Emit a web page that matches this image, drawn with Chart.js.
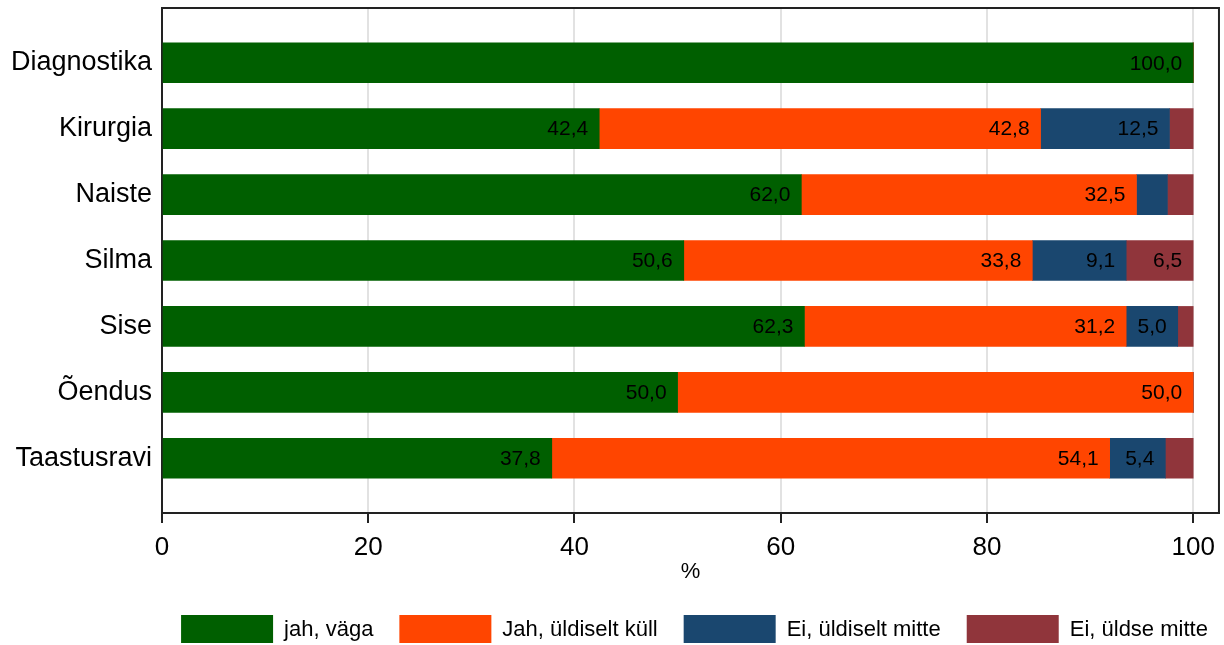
<!DOCTYPE html>
<html>
<head>
<meta charset="utf-8">
<script src="https://cdn.jsdelivr.net/npm/chart.js@4"></script>
<style>
  html, body { margin: 0; padding: 0; background: #fff; }
  #wrap { width: 1224px; height: 645px; position: relative; }
</style>
</head>
<body>
<div id="wrap"><canvas id="osakond"></canvas></div>
<script>
// categories (top to bottom) and shares per answer, %
var osakonnad = ['Diagnostika', 'Kirurgia', 'Naiste', 'Silma', 'Sise', 'Õendus', 'Taastusravi']
var jahVaga = [100.0, 42.4, 62.0, 50.6, 62.3, 50.0, 37.8]
var jahUldiseltKull = [0, 42.8, 32.5, 33.8, 31.2, 50.0, 54.1]
var eiUldiseltMitte = [0, 12.5, 3.0, 9.1, 5.0, 0, 5.4]
var eiUldseMitte = [0, 2.3, 2.5, 6.5, 1.5, 0, 2.7]
var xTicks = [0, 20, 40, 60, 80, 100]

var fontFamily = '"Liberation Sans", Arial, Helvetica, sans-serif'

function toPoints(values) {
    return values.map(function (v, i) { return { x: v, y: i } })
}

var barData = {
    datasets: [
        { label: 'jah, väga', data: toPoints(jahVaga), backgroundColor: '#005f00' },
        { label: 'Jah, üldiselt küll', data: toPoints(jahUldiseltKull), backgroundColor: '#ff4500' },
        { label: 'Ei, üldiselt mitte', data: toPoints(eiUldiseltMitte), backgroundColor: '#1a476f' },
        { label: 'Ei, üldse mitte', data: toPoints(eiUldseMitte), backgroundColor: '#90353b' }
    ]
}

// value labels inside the right end of each segment (only for 5% and up)
var valueLabels = {
    id: 'valueLabels',
    afterDatasetsDraw: function (chart) {
        var ctx = chart.ctx
        ctx.save()
        ctx.font = '21px ' + fontFamily
        ctx.fillStyle = '#000'
        ctx.textAlign = 'right'
        ctx.textBaseline = 'middle'
        chart.data.datasets.forEach(function (ds, di) {
            chart.getDatasetMeta(di).data.forEach(function (bar, i) {
                var v = ds.data[i].x
                if (v < 5) return
                ctx.fillText(v.toFixed(1).replace('.', ','), bar.x - 11, bar.y + 1)
            })
        })
        ctx.restore()
    }
}

// top and right edges of the plot frame
var plotFrame = {
    id: 'plotFrame',
    afterDraw: function (chart) {
        var a = chart.chartArea
        var ctx = chart.ctx
        ctx.save()
        ctx.strokeStyle = '#222'
        ctx.lineWidth = 2
        ctx.beginPath()
        ctx.moveTo(a.left, a.top)
        ctx.lineTo(a.right, a.top)
        ctx.lineTo(a.right, a.bottom)
        ctx.stroke()
        ctx.restore()
    }
}

// legend row under the axis
var bottomLegend = {
    id: 'bottomLegend',
    afterDraw: function (chart) {
        var ctx = chart.ctx
        var boxW = 92, boxH = 28, textGap = 11, itemGap = 26
        var boxTop = 615
        ctx.save()
        ctx.font = '22px ' + fontFamily
        ctx.textBaseline = 'middle'
        ctx.textAlign = 'left'
        var items = chart.data.datasets.map(function (ds) {
            return { label: ds.label, color: ds.backgroundColor, w: ctx.measureText(ds.label).width }
        })
        var total = items.reduce(function (s, it) { return s + boxW + textGap + it.w }, 0) + itemGap * (items.length - 1)
        var a = chart.chartArea
        var x = (a.left + a.right) / 2 - total / 2 + 4
        items.forEach(function (it) {
            ctx.fillStyle = it.color
            ctx.fillRect(x, boxTop, boxW, boxH)
            ctx.fillStyle = '#000'
            ctx.fillText(it.label, x + boxW + textGap, boxTop + boxH / 2 + 1)
            x += boxW + textGap + it.w + itemGap
        })
        ctx.restore()
    }
}

new Chart(document.getElementById('osakond').getContext('2d'), {
    type: 'bar',
    data: barData,
    plugins: [valueLabels, plotFrame, bottomLegend],
    options: {
        indexAxis: 'y',
        responsive: true,
        maintainAspectRatio: false,
        animation: false,
        layout: { padding: { top: 8, right: 5, left: 0, bottom: 45 } },
        datasets: { bar: { barThickness: 40 } },
        plugins: {
            legend: { display: false },
            tooltip: { enabled: false }
        },
        scales: {
            x: {
                type: 'linear',
                stacked: true,
                min: 0,
                max: 102.5,
                afterBuildTicks: function (scale) {
                    scale.ticks = xTicks.map(function (v) { return { value: v } })
                },
                afterFit: function (scale) { scale.height = 87 },
                grid: { color: '#e2e2e2', lineWidth: 2, tickColor: '#222', tickLength: 10, tickWidth: 2 },
                border: { display: true, color: '#222', width: 2 },
                ticks: { color: '#000', font: { family: fontFamily, size: 26 }, padding: 9, maxRotation: 0 },
                title: { display: true, text: '%', color: '#000', font: { family: fontFamily, size: 22 }, padding: { top: 0, bottom: 15 } }
            },
            y: {
                type: 'linear',
                stacked: true,
                reverse: true,
                offset: false,
                min: -0.83,
                max: 6.83,
                afterBuildTicks: function (scale) {
                    scale.ticks = osakonnad.map(function (c, i) { return { value: i } })
                },
                afterFit: function (scale) {
                    scale.width = 162
                    scale.paddingTop = 0
                    scale.paddingBottom = 0
                },
                grid: { display: false, drawTicks: false },
                border: { display: true, color: '#222', width: 2 },
                ticks: {
                    color: '#000',
                    font: { family: fontFamily, size: 27 },
                    padding: 10,
                    callback: function (v) { return osakonnad[v] }
                }
            }
        }
    }
})
</script>
</body>
</html>
